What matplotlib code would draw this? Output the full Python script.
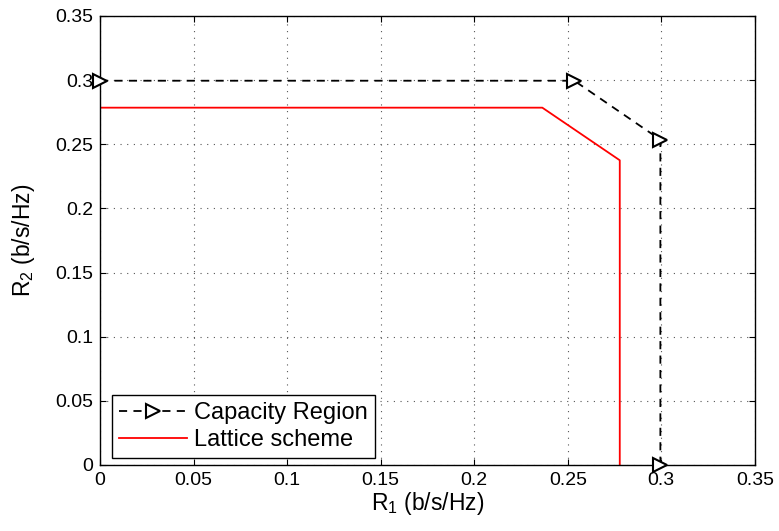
import matplotlib
matplotlib.use("Agg")
import matplotlib.pyplot as plt

plt.rcParams['font.family'] = ['Liberation Sans', 'DejaVu Sans']
plt.rcParams['mathtext.default'] = 'regular'

cap_r1 = [0.0, 0.2535, 0.2995, 0.2995]
cap_r2 = [0.2995, 0.2995, 0.2535, 0.0]
lat_r1 = [0.0, 0.2364, 0.2778, 0.2778]
lat_r2 = [0.2785, 0.2785, 0.2375, 0.0]
xticks = [0, 0.05, 0.1, 0.15, 0.2, 0.25, 0.3, 0.35]
yticks = [0, 0.05, 0.1, 0.15, 0.2, 0.25, 0.3, 0.35]
ticklabels = ['0', '0.05', '0.1', '0.15', '0.2', '0.25', '0.3', '0.35']

fig = plt.figure(figsize=(7.79, 5.31), dpi=100)
ax = fig.add_axes([0.1284, 0.1243, 0.969 - 0.1284, 0.970 - 0.1243])

ax.plot(cap_r1, cap_r2, color='black', linestyle=(0, (4.5, 3.5)), linewidth=1.3,
        marker='>', markersize=9.5, markerfacecolor='white', markeredgecolor='black',
        markeredgewidth=1.5, label='Capacity Region', clip_on=False, zorder=3)
ax.plot(lat_r1, lat_r2, color='red', linewidth=1.3, label='Lattice scheme', zorder=2)

ax.set_xlim(0, 0.35)
ax.set_ylim(0, 0.35)
ax.set_xticks(xticks)
ax.set_yticks(yticks)
ax.set_xticklabels(ticklabels)
ax.set_yticklabels(ticklabels)
ax.tick_params(direction='in', length=4, labelsize=14, top=True, right=True, pad=5)
ax.grid(True, linestyle=(0, (1, 5)), color='#555555', linewidth=0.8)
for s in ax.spines.values():
    s.set_linewidth(1.0)

ax.set_xlabel('R$_1$ (b/s/Hz)', fontsize=16.5, labelpad=1)
ax.set_ylabel('R$_2$ (b/s/Hz)', fontsize=16.5, labelpad=13)

leg = ax.legend(loc='lower left', fontsize=17, fancybox=False, edgecolor='black',
                framealpha=1, bbox_to_anchor=(0.018, 0.015), borderaxespad=0,
                handlelength=2.9, borderpad=0.3, labelspacing=0.2, handletextpad=0.3)
leg.get_frame().set_linewidth(1.0)

fig.savefig('out.png', dpi=100)
